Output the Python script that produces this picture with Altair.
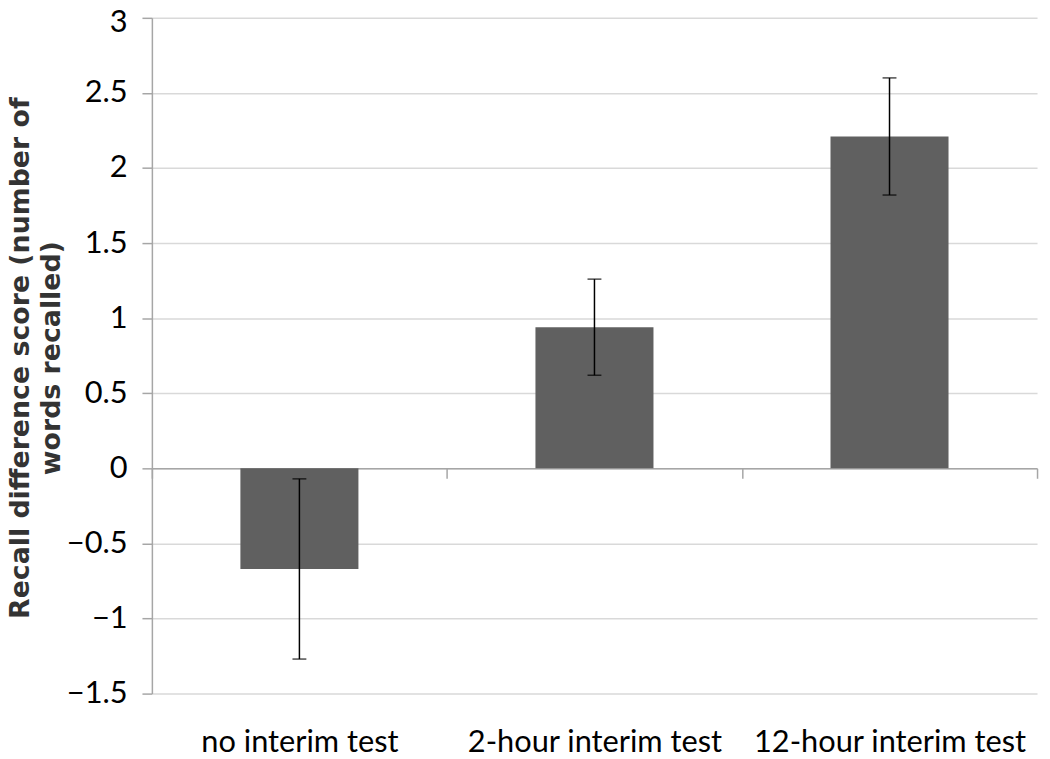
import altair as alt
import pandas as pd

conditions = ["no interim test", "2-hour interim test", "12-hour interim test"]
means = [-0.67, 0.94, 2.21]
errors = [0.60, 0.32, 0.39]
y_ticks = [-1.5, -1, -0.5, 0, 0.5, 1, 1.5, 2, 2.5, 3]
y_title = ["Recall difference score (number of", "words recalled)"]

df = pd.DataFrame({"condition": conditions, "mean": means, "err": errors})
df["lower"] = df["mean"] - df["err"]
df["upper"] = df["mean"] + df["err"]

W, H = 892, 681
ymin, ymax = y_ticks[0], y_ticks[-1]
zero_offset = -(0 - ymin) / (ymax - ymin) * H

x_enc = alt.X(
    "condition:N", sort=conditions, title=None,
    scale=alt.Scale(paddingInner=0, paddingOuter=0),
    axis=alt.Axis(
        orient="bottom", offset=zero_offset, labelAngle=0, labelPadding=251,
        labelLimit=0,
        labelFont="Lato", labelFontSize=31, labelColor="#000", labelBaseline="top",
        domainColor="#a6a6a6", domainWidth=1.5, tickColor="#a6a6a6", tickWidth=1.5,
        tickSize=10, tickBand="extent", grid=False,
    ),
)

y_scale = alt.Scale(domain=[ymin, ymax], nice=False, zero=False)

base = alt.Chart(df).encode(x=x_enc)

bars = base.mark_bar(color="#606060", width=alt.RelativeBandSize(0.4)).encode(
    y=alt.Y(
        "mean:Q", scale=y_scale, title=y_title,
        axis=alt.Axis(
            values=y_ticks, format="~g", labelFont="Lato", labelFontSize=31,
            labelColor="#000", labelPadding=15, tickSize=10, tickColor="#a6a6a6",
            tickWidth=1.5, domainColor="#a6a6a6", domainWidth=1.5,
            gridColor="#d9d9d9", gridWidth=1.5,
            labelOffset={"condition": {"test": f"datum.value == {ymax}", "value": 5}, "value": 0},
            titleFont="DejaVu Sans", titleFontSize=27, titleFontWeight="bold",
            titleColor="#333", titleAngle=270, titleAlign="center",
            titleBaseline="alphabetic", titleLineHeight=31,
            titleX=-124, titleY=H / 2 + 2,
        ),
    ),
    y2=alt.datum(0),
)

rules = base.mark_rule(color="#000", strokeWidth=1.5).encode(
    y=alt.Y("lower:Q", scale=y_scale), y2="upper:Q"
)
low_caps = base.mark_tick(color="#000", size=14, thickness=1.5).encode(
    y=alt.Y("lower:Q", scale=y_scale)
)
up_caps = base.mark_tick(color="#000", size=14, thickness=1.5).encode(
    y=alt.Y("upper:Q", scale=y_scale)
)

chart = (
    alt.layer(bars, rules, low_caps, up_caps)
    .properties(
        width=W, height=H,
        autosize=alt.AutoSizeParams(type="none"),
        padding={"left": 145, "top": 7, "right": 5, "bottom": 64},
        background="white",
    )
    .configure_view(stroke=None)
)

chart.save("out.html", embed_options={"renderer": "svg", "actions": False})
